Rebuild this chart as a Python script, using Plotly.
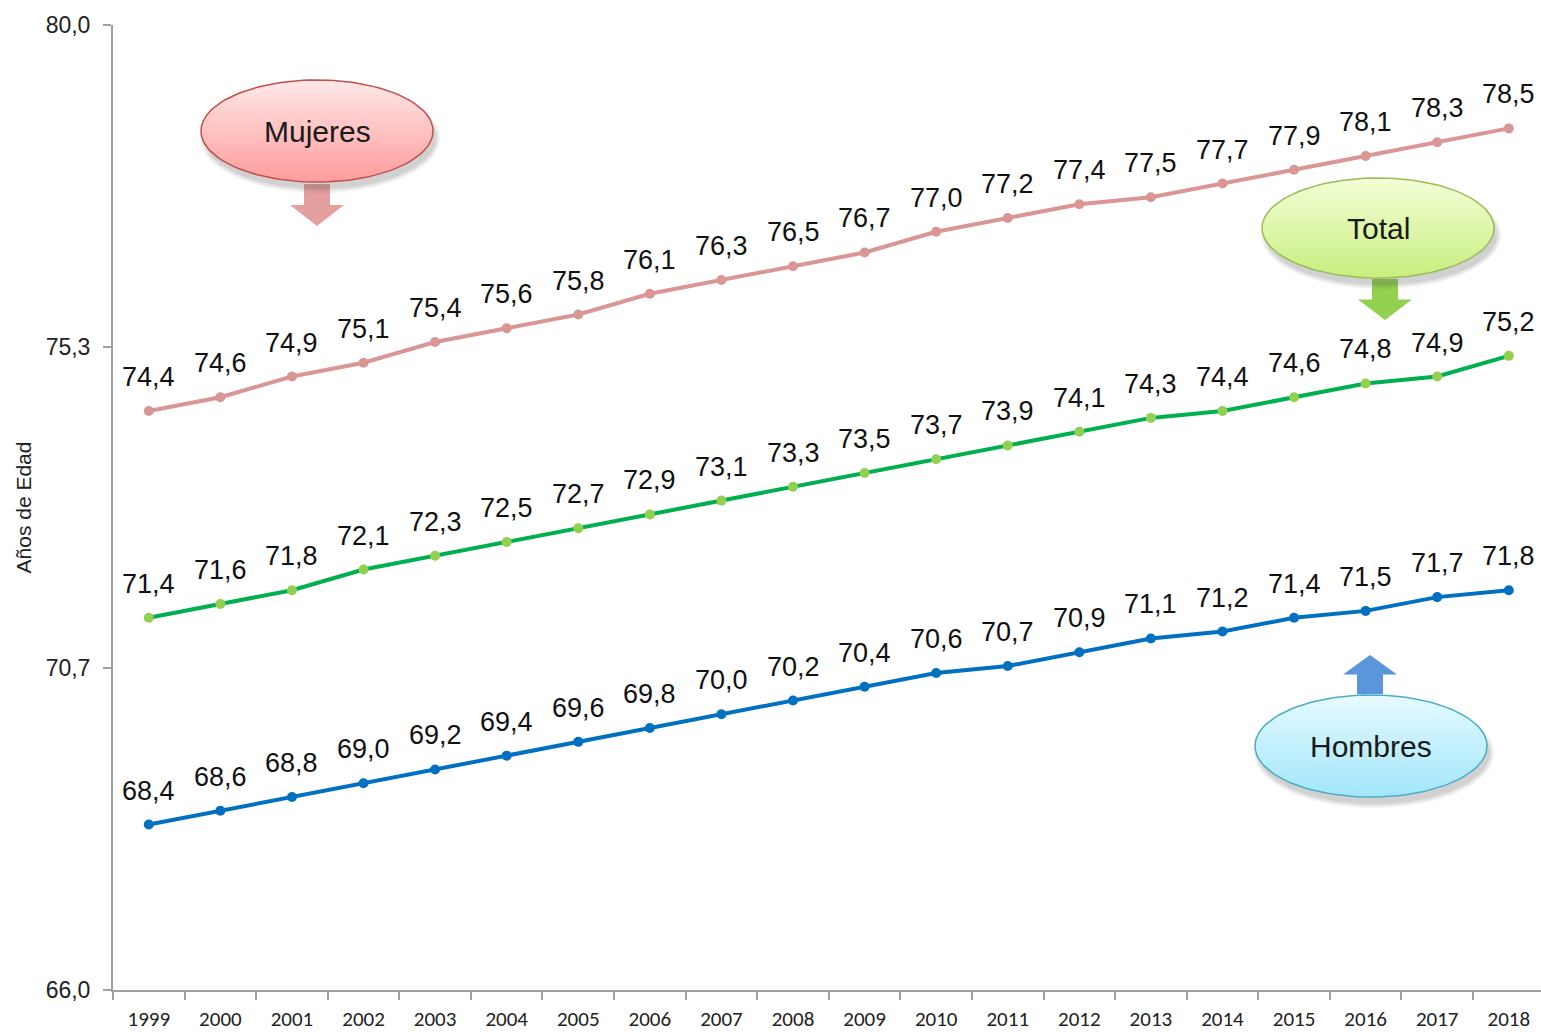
import numpy as np
import plotly.graph_objects as go

years = [str(y) for y in range(1999, 2019)]
mujeres = [74.4, 74.6, 74.9, 75.1, 75.4, 75.6, 75.8, 76.1, 76.3, 76.5,
           76.7, 77.0, 77.2, 77.4, 77.5, 77.7, 77.9, 78.1, 78.3, 78.5]
total = [71.4, 71.6, 71.8, 72.1, 72.3, 72.5, 72.7, 72.9, 73.1, 73.3,
         73.5, 73.7, 73.9, 74.1, 74.3, 74.4, 74.6, 74.8, 74.9, 75.2]
hombres = [68.4, 68.6, 68.8, 69.0, 69.2, 69.4, 69.6, 69.8, 70.0, 70.2,
           70.4, 70.6, 70.7, 70.9, 71.1, 71.2, 71.4, 71.5, 71.7, 71.8]
y_ticks = [66.0, 70.667, 75.333, 80.0]
y_tick_labels = ["66,0", "70,7", "75,3", "80,0"]

SANS = "Liberation Sans, Arial, sans-serif"
W, H = 1541, 1032
ML, MR, MT, MB = 113, 0, 25, 42

fig = go.Figure()

series = [
    ("Mujeres", mujeres, "#D99694", "#D99694"),
    ("Total", total, "#00B050", "#92D050"),
    ("Hombres", hombres, "#0070C0", "#0070C0"),
]
for name, vals, lc, mc in series:
    fig.add_trace(go.Scatter(
        x=years, y=vals, mode="lines+markers", name=name,
        line=dict(color=lc, width=4),
        marker=dict(color=mc, size=10),
        hoverinfo="skip", showlegend=False,
    ))

annotations = []
for name, vals, lc, mc in series:
    for i, v in enumerate(vals):
        annotations.append(dict(
            x=i, y=v, xref="x", yref="y",
            text=f"{v:.1f}".replace(".", ","),
            showarrow=False, yshift=34, yanchor="middle",
            font=dict(family=SANS, size=27, color="#111111"),
        ))

# decorative callouts on a pixel overlay axis
def ellipse(cx, cy, rx, ry, n=120):
    t = np.linspace(0, 2 * np.pi, n)
    return cx + rx * np.cos(t), cy + ry * np.sin(t)

callouts = [
    ("Mujeres", 317, 131, 116, 51, "#FFE8E8", "#FF9C9C", "#C0504D", "#E3A09E", "down", (317, 184, 226)),
    ("Total", 1378, 228, 116, 50, "#F4FFD8", "#C8EE7E", "#9BBB59", "#92D050", "down", (1385, 279, 320)),
    ("Hombres", 1371, 746, 116, 51, "#E6FAFF", "#A2E6FB", "#4BACC6", "#5B95DC", "up", (1370, 694, 655)),
]

for text, cx, cy, rx, ry, c1, c2, bc, ac, d, (ax, a0, a1) in callouts:
    sw, hw = 13, 27
    mid = (a0 + a1) / 2
    px = [ax - sw, ax + sw, ax + sw, ax + hw, ax, ax - hw, ax - sw, ax - sw]
    py = [a0, a0, mid, mid, a1, mid, mid, a0]
    fig.add_trace(go.Scatter(x=px, y=py, xaxis="x2", yaxis="y2", mode="lines",
                             fill="toself", fillcolor=ac, line=dict(width=0, color=ac),
                             hoverinfo="skip", showlegend=False))
    for k, op in [(4, 0.08), (2, 0.10), (0, 0.12)]:
        ex, ey = ellipse(cx + 3, cy + 7, rx + k, ry + k)
        fig.add_trace(go.Scatter(x=ex, y=ey, xaxis="x2", yaxis="y2", mode="lines",
                                 fill="toself", fillcolor=f"rgba(90,90,90,{op})",
                                 line=dict(width=0), hoverinfo="skip", showlegend=False))
    ex, ey = ellipse(cx, cy, rx, ry)
    fig.add_trace(go.Scatter(
        x=ex, y=ey, xaxis="x2", yaxis="y2", mode="lines", fill="toself",
        fillgradient=dict(type="vertical", colorscale=[[0, c2], [1, c1]],
                          start=cy + ry, stop=cy - ry),
        line=dict(width=1.5, color=bc), hoverinfo="skip", showlegend=False))
    annotations.append(dict(x=cx, y=cy, xref="x2", yref="y2", text=text, showarrow=False,
                            font=dict(family=SANS, size=30, color="#1A1A1A")))

fig.update_layout(
    width=W, height=H,
    margin=dict(l=ML, r=MR, t=MT, b=MB, autoexpand=False),
    paper_bgcolor="white", plot_bgcolor="white",
    annotations=annotations,
    xaxis=dict(
        type="category", range=[-0.5, 19.45], automargin=False,
        showline=True, linecolor="#A0A0A0", linewidth=2,
        ticks="outside", tickson="boundaries", ticklen=8, tickcolor="#A0A0A0", tickwidth=2,
        ticklabelstandoff=9,
        tickfont=dict(family="Carlito, Calibri, Lato, sans-serif", size=21, color="#222222"),
        showgrid=False, zeroline=False, fixedrange=True,
    ),
    yaxis=dict(
        range=[66, 80], tickvals=y_ticks, ticktext=y_tick_labels, automargin=False,
        showline=True, linecolor="#A0A0A0", linewidth=2,
        ticks="outside", ticklen=8, tickcolor="#A0A0A0", tickwidth=2,
        ticklabelstandoff=8,
        tickfont=dict(family=SANS, size=23, color="#222222"),
        title=dict(text="Años de Edad", standoff=8,
                   font=dict(family=SANS, size=21, color="#222222")),
        showgrid=False, zeroline=False, fixedrange=True,
    ),
    xaxis2=dict(overlaying="x", range=[ML, W - MR], visible=False, fixedrange=True),
    yaxis2=dict(overlaying="y", range=[H - MB, MT], visible=False, fixedrange=True),
)

fig.write_html(
    "out.html",
    config={"displayModeBar": False},
    post_script="document.body.style.margin='0';document.body.style.overflow='hidden';",
)
